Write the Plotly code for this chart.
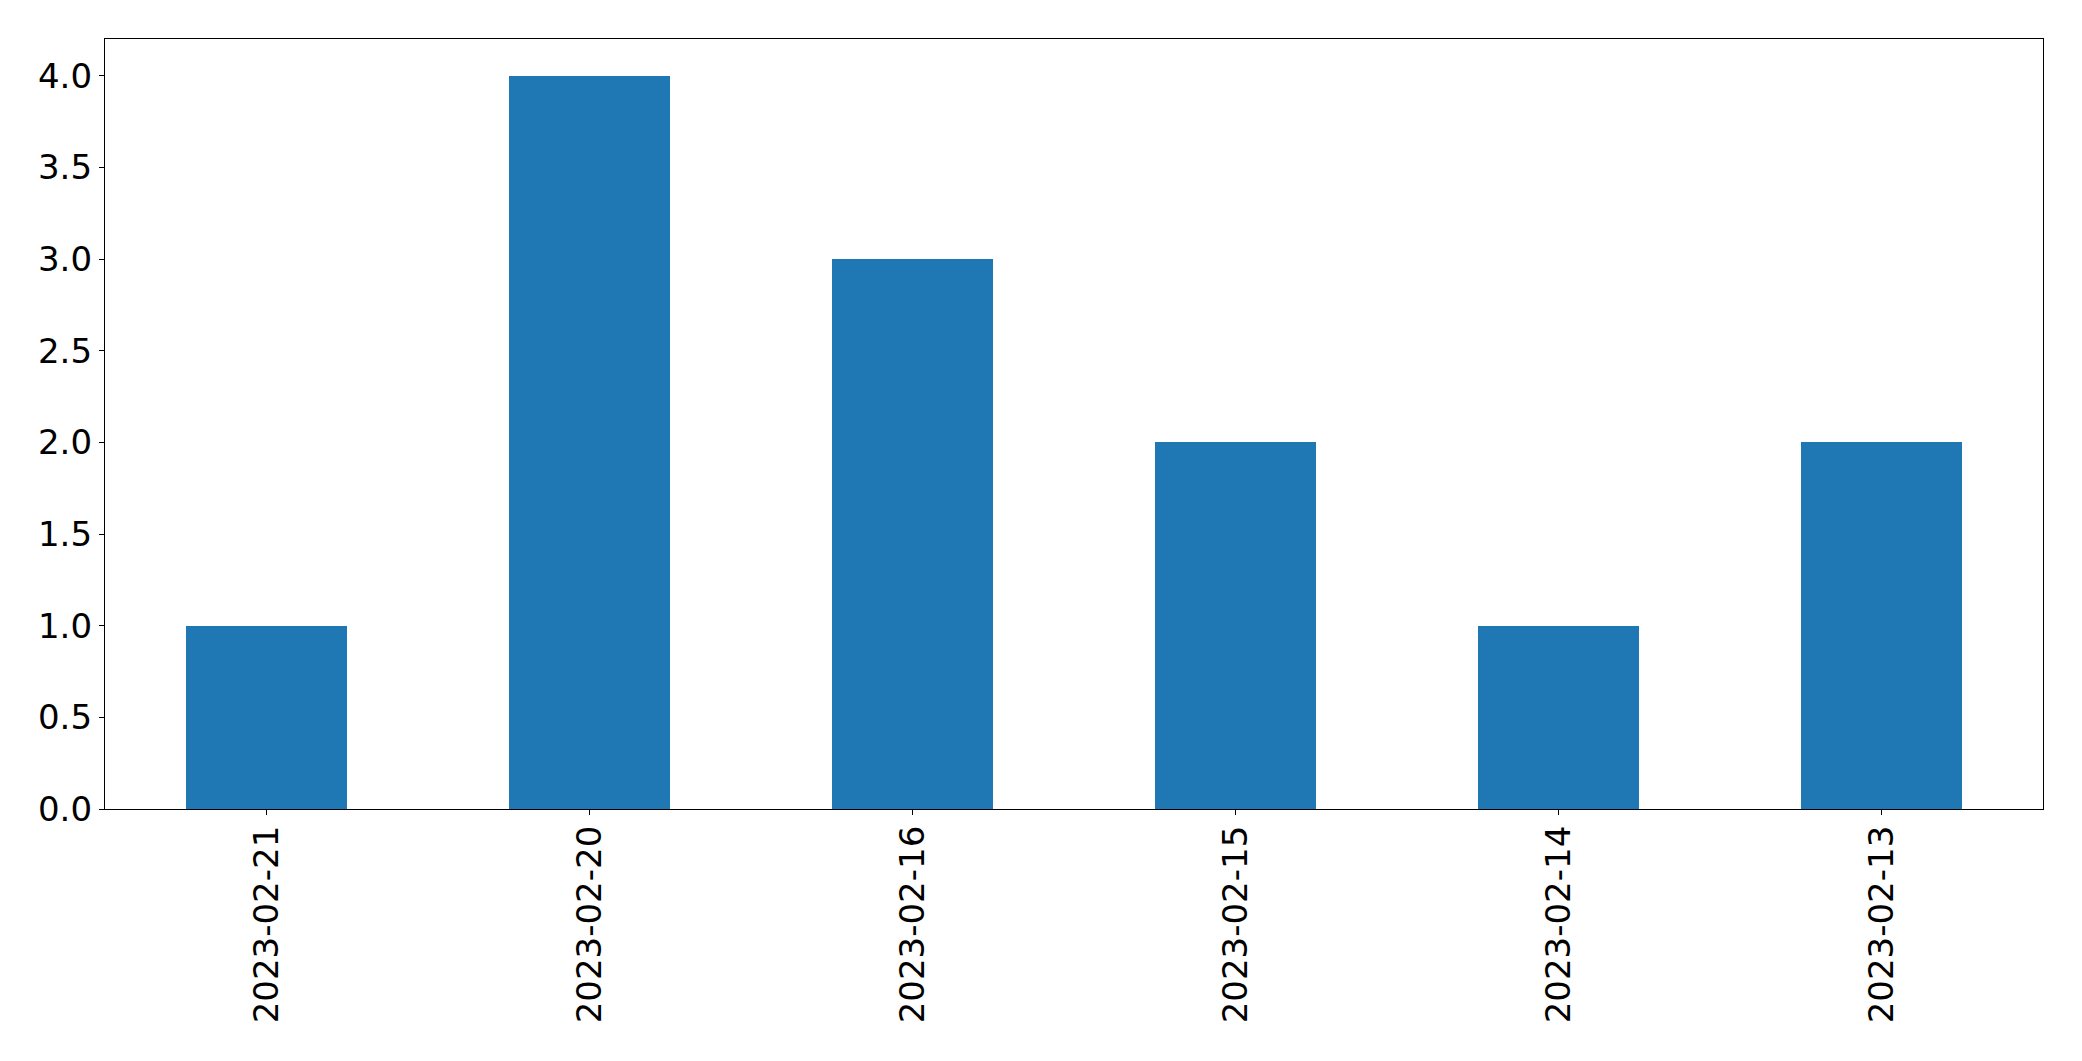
import plotly.graph_objects as go

categories = ["2023-02-21", "2023-02-20", "2023-02-16", "2023-02-15", "2023-02-14", "2023-02-13"]
values = [1, 4, 3, 2, 1, 2]
y_ticks = [0.0, 0.5, 1.0, 1.5, 2.0, 2.5, 3.0, 3.5, 4.0]
y_tick_labels = [f"{v:.1f}" for v in y_ticks]

fig = go.Figure(go.Bar(x=categories, y=values, width=0.5, marker_color="#1f77b4",
                       marker_line_width=0))

# page body has an 8px margin; figure is sized to fit the 2082x1061 window
fig.update_layout(
    width=2066, height=1045,
    margin=dict(l=97, r=31, t=31, b=244),
    paper_bgcolor="white", plot_bgcolor="white",
    font=dict(family="DejaVu Sans", size=34, color="black"),
    showlegend=False,
    bargap=0,
)
fig.update_xaxes(
    type="category", range=[-0.5, 5.5], tickangle=-90,
    ticks="outside", ticklen=5, tickwidth=1.3, tickcolor="black",
    ticklabelstandoff=-3,
    showline=True, linecolor="black", linewidth=1.3, mirror=True,
    showgrid=False, zeroline=False,
)
fig.update_yaxes(
    range=[0, 4.2], tickvals=y_ticks, ticktext=y_tick_labels,
    ticks="outside", ticklen=5, tickwidth=1.3, tickcolor="black",
    showline=True, linecolor="black", linewidth=1.3, mirror=True,
    showgrid=False, zeroline=False,
)

fig.write_html("out.html")
